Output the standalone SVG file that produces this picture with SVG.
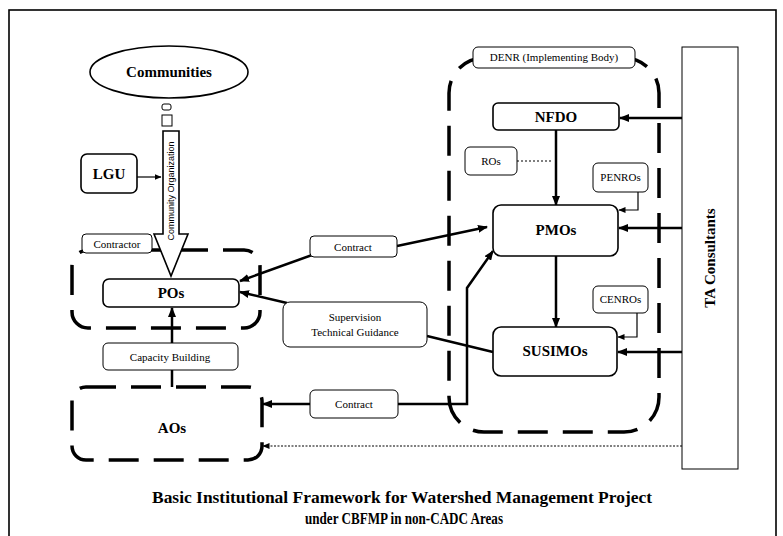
<svg xmlns="http://www.w3.org/2000/svg" width="783" height="536" viewBox="0 0 783 536">
<defs>
<style>
.grp{fill:none;stroke:#000;stroke-width:3.5;stroke-dasharray:30 15}
.box{fill:#fff;stroke:#000;stroke-width:1.6}
.lbl{fill:#fff;stroke:#000;stroke-width:1}
.ln{fill:none;stroke:#000;stroke-width:2.5}
.thin{fill:none;stroke:#000;stroke-width:1.2}
.b{font-weight:bold;font-size:15px;text-anchor:middle;fill:#000}
.s{font-size:11px;text-anchor:middle;fill:#000}
.cap{font-weight:bold;font-size:16px;text-anchor:middle;fill:#000}
</style>
<marker id="ah" markerWidth="10" markerHeight="8" refX="9" refY="4" orient="auto" markerUnits="userSpaceOnUse">
<path d="M0,0 L10,4 L0,8 Z" fill="#000"/>
</marker>
<marker id="ahs" markerWidth="7" markerHeight="6" refX="6.5" refY="3" orient="auto" markerUnits="userSpaceOnUse">
<path d="M0,0 L7,3 L0,6 Z" fill="#000"/>
</marker>
</defs>

<rect x="9" y="10" width="767" height="540" fill="#fff" stroke="#000" stroke-width="1.6"/>

<g id="groups">
<rect id="contractor-group" class="grp" x="72" y="250" width="188" height="78" rx="16"/>
<rect id="aos-group" class="grp" x="72" y="387" width="190" height="73" rx="14"/>
<rect id="denr-group" class="grp" x="449" y="58" width="210" height="374" rx="35"/>
</g>

<g id="connectors">
<line class="thin" x1="137" y1="177" x2="161" y2="177" marker-end="url(#ahs)"/>
<line class="ln" x1="312" y1="255" x2="240" y2="281" marker-end="url(#ah)"/>
<line class="ln" x1="397" y1="246" x2="487" y2="227" marker-end="url(#ah)"/>
<line class="ln" x1="287" y1="303" x2="240" y2="292" marker-end="url(#ah)"/>
<line class="ln" x1="427" y1="336" x2="493" y2="352"/>
<line class="ln" x1="310" y1="404" x2="263" y2="404" marker-end="url(#ah)"/>
<polyline class="ln" points="398,404 467,404 467,288 493,251" marker-end="url(#ah)"/>
<line class="ln" x1="172" y1="387" x2="172" y2="308" stroke-width="3.5" marker-end="url(#ah)"/>
<line class="ln" x1="556" y1="130" x2="556" y2="205" stroke-width="3" marker-end="url(#ah)"/>
<line class="ln" x1="556" y1="256" x2="556" y2="327" stroke-width="3" marker-end="url(#ah)"/>
<line class="thin" x1="517" y1="161" x2="553" y2="161" stroke-dasharray="2 2" stroke-width="1.5"/>
<polyline class="thin" points="638,192 638,210 619,210" stroke-width="1.8" marker-end="url(#ahs)"/>
<polyline class="thin" points="637,313 637,337 618,337" stroke-width="1.8" marker-end="url(#ahs)"/>
<line class="ln" x1="682" y1="118" x2="620" y2="118" marker-end="url(#ah)"/>
<line class="ln" x1="682" y1="228" x2="619" y2="228" marker-end="url(#ah)"/>
<line class="ln" x1="682" y1="352" x2="618" y2="352" marker-end="url(#ah)"/>
<line class="thin" x1="682" y1="446" x2="263" y2="446" stroke-dasharray="2 1.5" marker-end="url(#ahs)"/>
</g>

<g font-family="Liberation Serif, Times New Roman, serif">
<g id="communities">
<ellipse class="box" cx="169" cy="72" rx="79" ry="26" stroke-width="1.2"/>
<text class="b" x="169" y="77">Communities</text>
</g>

<g id="community-organization">
<rect class="lbl" x="162" y="104" width="9" height="6" rx="2"/>
<rect class="lbl" x="162" y="115" width="10" height="11"/>
<polygon class="box" stroke-width="1.2" points="163,131 179,131 179,234 188,234 171,276 154,234 163,234"/>
<text font-family="Liberation Sans, Arial, sans-serif" font-size="9" text-anchor="middle" transform="rotate(-90 171 191)" x="171" y="194">Community Organization</text>
</g>

<g id="lgu">
<rect class="box" x="81" y="154" width="56" height="39" rx="6"/>
<text class="b" x="109" y="179">LGU</text>
</g>

<g id="contractor">
<rect class="lbl" x="82" y="234" width="70" height="19" rx="4"/>
<text class="s" x="117" y="247.5" font-size="10">Contractor</text>
</g>

<g id="pos">
<rect class="box" x="103" y="279" width="136" height="28" rx="6"/>
<text class="b" x="171" y="298">POs</text>
</g>

<g id="capacity-building">
<rect class="lbl" x="103" y="343" width="135" height="27" rx="5"/>
<text class="s" x="170" y="360.5" font-size="10.5">Capacity Building</text>
</g>

<g id="aos">
<text class="b" x="172" y="433">AOs</text>
</g>

<g id="contract-upper">
<rect class="lbl" x="310" y="236" width="87" height="21" rx="4"/>
<text class="s" x="353" y="250.5">Contract</text>
</g>

<g id="supervision">
<rect class="lbl" x="283" y="302" width="144" height="45" rx="7"/>
<text class="s" x="355" y="321">Supervision</text>
<text class="s" x="355" y="336">Technical Guidance</text>
</g>

<g id="contract-lower">
<rect class="lbl" x="310" y="390" width="88" height="28" rx="5"/>
<text class="s" x="354" y="408">Contract</text>
</g>

<g id="denr">
<rect class="lbl" x="473" y="47" width="162" height="21" rx="5"/>
<text class="s" x="554" y="61" font-size="10.5">DENR (Implementing Body)</text>
</g>

<g id="nfdo">
<rect class="box" x="493" y="103" width="126" height="27" rx="5"/>
<text class="b" x="556" y="122">NFDO</text>
</g>

<g id="ros">
<rect class="lbl" x="465" y="147" width="52" height="28" rx="5"/>
<text class="s" x="491" y="165">ROs</text>
</g>

<g id="penros">
<rect class="lbl" x="593" y="163" width="55" height="29" rx="5"/>
<text class="s" x="620.5" y="181" font-size="9.5">PENROs</text>
</g>

<g id="pmos">
<rect class="box" x="493" y="205" width="125" height="51" rx="8"/>
<text class="b" x="556" y="235">PMOs</text>
</g>

<g id="cenros">
<rect class="lbl" x="593" y="286" width="55" height="27" rx="5"/>
<text class="s" x="620.5" y="303" font-size="9.5">CENROs</text>
</g>

<g id="susimos">
<rect class="box" x="493" y="327" width="124" height="49" rx="8"/>
<text class="b" x="555" y="356">SUSIMOs</text>
</g>

<g id="ta-consultants">
<rect class="lbl" x="682" y="47" width="56" height="422" stroke-width="1.2"/>
<text class="b" x="710" y="258" transform="rotate(-90 710 258)" dy="5" font-size="16">TA Consultants</text>
</g>

<g id="caption">
<text class="cap" x="402" y="503" textLength="500" lengthAdjust="spacingAndGlyphs">Basic Institutional Framework for Watershed Management Project</text>
<text class="cap" x="404" y="524" textLength="198" lengthAdjust="spacingAndGlyphs">under CBFMP in non-CADC Areas</text>
</g>
</g>
</svg>
